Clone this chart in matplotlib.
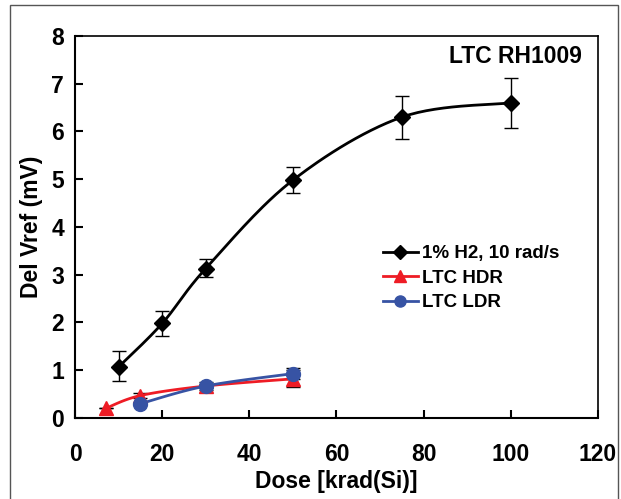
import matplotlib
matplotlib.use('Agg')

import numpy as np
import matplotlib.pyplot as plt
from matplotlib.patches import Rectangle

plt.rcParams['font.family'] = ['Liberation Sans', 'DejaVu Sans']
plt.rcParams['font.weight'] = 'bold'

# data
h2_dose = [10, 20, 30, 50, 75, 100]
h2_vref = [1.07, 1.98, 3.13, 4.98, 6.30, 6.60]
h2_err_lo = [0.29, 0.26, 0.18, 0.26, 0.45, 0.52]
h2_err_hi = [0.33, 0.27, 0.19, 0.27, 0.45, 0.52]

hdr_dose = [7, 15, 30, 50]
hdr_vref = [0.20, 0.47, 0.67, 0.82]
hdr_err = [0.0, 0.05, 0.08, 0.18]

ldr_dose = [15, 30, 50]
ldr_vref = [0.30, 0.67, 0.93]
ldr_err = [0.0, 0.05, 0.12]

xticks = [0, 20, 40, 60, 80, 100, 120]
yticks = [0, 1, 2, 3, 4, 5, 6, 7, 8]


def smooth(x, y, sx=4.36, sy=47.75, n=30):
    # Excel-style smoothed line (bezier through the points)
    px = np.asarray(x, float) * sx
    py = np.asarray(y, float) * sy
    P = np.column_stack([px, py])
    P = np.vstack([P[0], P, P[-1]])
    out = []
    t = np.linspace(0, 1, n)[:, None]
    for i in range(1, len(P) - 2):
        p0, p1, p2, p3 = P[i - 1], P[i], P[i + 1], P[i + 2]
        c1 = p1 + (p2 - p0) / 6
        c2 = p2 - (p3 - p1) / 6
        seg = ((1 - t) ** 3) * p1 + 3 * ((1 - t) ** 2) * t * c1 + 3 * (1 - t) * t ** 2 * c2 + t ** 3 * p2
        out.append(seg)
    out = np.vstack(out)
    return out[:, 0] / sx, out[:, 1] / sy


fig = plt.figure(figsize=(6.21, 4.99), dpi=100)
ax = fig.add_axes([0.1208, 0.1623, 0.842, 0.7657])

# outer frame
fig.patches.append(Rectangle((10 / 621, -0.05), 608 / 621, 1.04, transform=fig.transFigure,
                             fill=False, edgecolor='#555555', lw=1.0, clip_on=False))

black = '#000000'
red = '#ee1c25'
blue = '#3753a4'

ax.errorbar(h2_dose, h2_vref, yerr=[h2_err_lo, h2_err_hi], fmt='none', ecolor='black',
            elinewidth=1, capsize=5, capthick=1, zorder=2)
ax.errorbar(hdr_dose, hdr_vref, yerr=hdr_err, fmt='none', ecolor='black',
            elinewidth=1, capsize=5, capthick=1, zorder=2)
ax.errorbar(ldr_dose, ldr_vref, yerr=ldr_err, fmt='none', ecolor='black',
            elinewidth=1, capsize=5, capthick=1, zorder=2)

sx, sy = smooth(h2_dose, h2_vref)
ax.plot(sx, sy, color=black, lw=2, zorder=3)
ax.plot(h2_dose, h2_vref, 'D', color=black, ms=8, zorder=4)

sx, sy = smooth(hdr_dose, hdr_vref)
ax.plot(sx, sy, color=red, lw=2, zorder=3)
ax.plot(hdr_dose, hdr_vref, '^', color=red, ms=10, zorder=4)

sx, sy = smooth(ldr_dose, ldr_vref)
ax.plot(sx, sy, color=blue, lw=2, zorder=3)
ax.plot(ldr_dose, ldr_vref, 'o', color=blue, ms=10, zorder=5)

# legend proxies
ax.plot([], [], color=black, lw=2, marker='D', ms=7, label='1% H2, 10 rad/s')
ax.plot([], [], color=red, lw=2, marker='^', ms=9, label='LTC HDR')
ax.plot([], [], color=blue, lw=2, marker='o', ms=8, label='LTC LDR')
h, l = ax.get_legend_handles_labels()
ax.legend(h[-3:], l[-3:], loc='upper left', bbox_to_anchor=(0.557, 0.497), frameon=False,
          handlelength=1.85, handletextpad=0.2, labelspacing=0.4,
          prop={'weight': 'bold', 'size': 13.5})

ax.set_xlim(0, 120)
ax.set_ylim(0, 8)
ax.set_xticks(xticks)
ax.set_yticks(yticks)
ax.tick_params(direction='in', length=6, width=1.5, labelsize=16.5, pad=8)
ax.tick_params(axis='x', pad=18)
for s in ax.spines.values():
    s.set_linewidth(1.5)
ax.spines['top'].set_linewidth(1.2)
ax.spines['right'].set_linewidth(1.2)

ax.set_xlabel('Dose [krad(Si)]', fontsize=16.5, fontweight='bold', labelpad=3)
ax.set_ylabel('Del Vref (mV)', fontsize=16.5, fontweight='bold', labelpad=6)
ax.text(0.97, 0.945, 'LTC RH1009', transform=ax.transAxes, ha='right', va='center',
        fontsize=16.5, fontweight='bold')

fig.savefig('out.png', dpi=100)
